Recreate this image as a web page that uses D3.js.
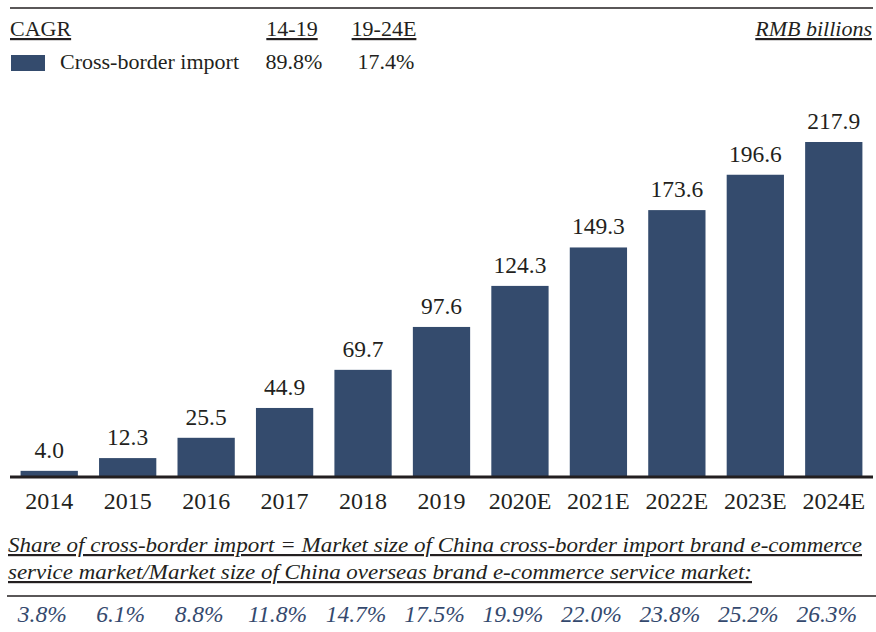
<!DOCTYPE html>
<html><head><meta charset="utf-8">
<script src="https://cdn.jsdelivr.net/npm/d3@7"></script>
<style>body{margin:0;background:#fff} svg text{font-family:'Liberation Serif', serif;}</style>
</head><body>
<svg id="c" width="876" height="632"></svg>
<script>
const categories = ["2014","2015","2016","2017","2018","2019","2020E","2021E","2022E","2023E","2024E"];
const values = [4.0,12.3,25.5,44.9,69.7,97.6,124.3,149.3,173.6,196.6,217.9];
const shares = ["3.8%","6.1%","8.8%","11.8%","14.7%","17.5%","19.9%","22.0%","23.8%","25.2%","26.3%"];
const cagrHeaders = ["14-19","19-24E"];
const cagrValues = ["89.8%","17.4%"];
const seriesName = "Cross-border import";
const unitLabel = "RMB billions";
const noteLines = ["Share of cross-border import = Market size of China cross-border import brand e-commerce",
                   "service market/Market size of China overseas brand e-commerce service market:"];

const barColor = "#344b6d", textColor = "#231f20", shareColor = "#34496e";
const svg = d3.select("#c");

function T(sel, size){ return sel.attr("font-family","Liberation Serif").attr("font-size",size||22); }

svg.append("line").attr("x1",10).attr("x2",873).attr("y1",8).attr("y2",8).attr("stroke",textColor).attr("stroke-width",1.5);

function uText(x,y,t,anchor,italic){
  const el = T(svg.append("text").attr("x",x).attr("y",y).text(t))
    .attr("fill",textColor).attr("text-anchor",anchor||"start").attr("text-decoration","underline");
  if(italic) el.attr("font-style","italic");
  return el;
}
uText(10,36,"CAGR");
uText(292,36,cagrHeaders[0],"middle");
uText(384,36,cagrHeaders[1],"middle");
uText(872,36,unitLabel,"end",true);

svg.append("rect").attr("x",11).attr("y",55).attr("width",34).attr("height",16).attr("fill",barColor);
T(svg.append("text").attr("x",60).attr("y",69).text(seriesName)).attr("fill",textColor);
T(svg.selectAll("text.cagr").data(cagrValues).join("text").attr("class","cagr")
  .attr("x",(d,i)=>[294,386][i]).attr("y",69).attr("text-anchor","middle").text(d=>d)).attr("fill",textColor);

const x = d3.scaleBand().domain(categories).range([10,873]).paddingInner(0.27).paddingOuter(0.135);
const y = d3.scaleLinear().domain([0,217.9]).range([477,142]);

svg.selectAll("rect.bar").data(values).join("rect").attr("class","bar")
  .attr("x",(d,i)=>x(categories[i])).attr("width",x.bandwidth())
  .attr("y",d=>y(d)).attr("height",d=>y(0)-y(d)).attr("fill",barColor);

T(svg.selectAll("text.val").data(values).join("text").attr("class","val")
  .attr("x",(d,i)=>x(categories[i])+x.bandwidth()/2).attr("y",d=>y(d)-13)
  .attr("text-anchor","middle").text(d=>d.toFixed(1)), 23.5).attr("fill",textColor);

const ax = svg.append("g").attr("transform","translate(0,477)").call(d3.axisBottom(x).tickSize(0).tickPadding(15));
ax.attr("font-family","Liberation Serif").attr("font-size",24);
ax.select(".domain").attr("stroke",textColor).attr("stroke-width",3).attr("d","M10,0H873");
T(ax.selectAll("text"), 24).attr("fill",textColor);

const noteLens = [854, 744];
noteLines.forEach((t,i)=>{
  T(svg.append("text").attr("x",8).attr("y",552+i*27).text(t), 22)
    .attr("font-style","italic").attr("fill",textColor)
    .attr("text-decoration","underline")
    .attr("textLength",noteLens[i]).attr("lengthAdjust","spacingAndGlyphs");
});
svg.append("line").attr("x1",7).attr("x2",876).attr("y1",596).attr("y2",596).attr("stroke",textColor).attr("stroke-width",1.5);

T(svg.selectAll("text.share").data(shares).join("text").attr("class","share")
  .attr("x",(d,i)=>x(categories[i])+x.bandwidth()/2-7).attr("y",622)
  .attr("text-anchor","middle").text(d=>d), 23.5)
  .attr("font-style","italic").attr("fill",shareColor);
</script>
</body></html>
